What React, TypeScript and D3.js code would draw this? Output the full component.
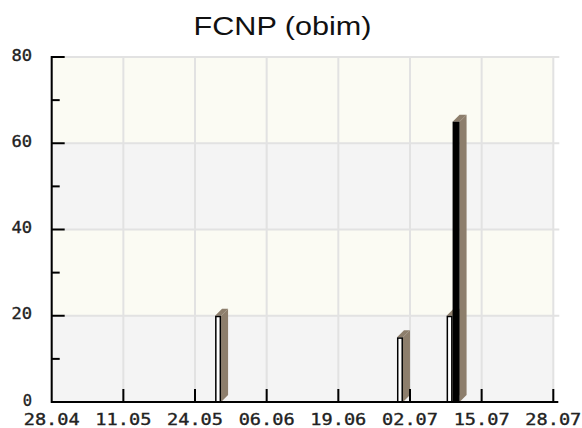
import React from 'react';
import * as d3 from 'd3';

// data
const title = 'FCNP (obim)';
const barDates = ['29.05', '01.07', '10.07'];
const whiteValues = [20, 15, 20];
const blackValues = [0, 0, 65];
const xTickLabels = ['28.04', '11.05', '24.05', '06.06', '19.06', '02.07', '15.07', '28.07'];
const yTickValues = [0, 20, 40, 60, 80];
const yMinorValues = [10, 30, 50, 70];

const W = 582;
const H = 428;
const plot = { left: 51.7, right: 553.3, top: 57, bottom: 402 };

const parse = (s: string) => d3.timeParse('%d.%m.%Y')(s + '.2012') as Date;

const cream = '#fbfbf3';
const grey = '#f4f4f4';
const gridColor = '#e2e2e2';
const depthColor = '#8d7e6c';
const monoFont = '"DejaVu Sans Mono", monospace';

const App: React.FC = () => {
  const x = d3.scaleTime()
    .domain([parse(xTickLabels[0]), parse(xTickLabels[xTickLabels.length - 1])])
    .range([plot.left, plot.right]);
  const y = d3.scaleLinear().domain([0, 80]).range([plot.bottom, plot.top]);

  const depth = 7;
  const y0 = y(0);

  // one 3D bar: top + side faces in brown, front on top
  const bar = (key: string, bx: number, bw: number, v: number, fill: string) => {
    if (v <= 0) return null;
    const yt = y(v);
    const side = [
      [bx + bw, yt], [bx + bw + depth, yt - depth],
      [bx + bw + depth, y0 - depth], [bx + bw, y0],
    ];
    const top = [
      [bx, yt], [bx + depth, yt - depth], [bx + bw + depth, yt - depth], [bx + bw, yt],
    ];
    return (
      <g key={key}>
        <polygon points={side.map(p => p.join(',')).join(' ')} fill={depthColor} />
        <polygon points={top.map(p => p.join(',')).join(' ')} fill={depthColor} />
        <rect x={bx + 0.75} y={yt + 0.75} width={bw - 1.5} height={y0 - yt - 0.75}
          fill={fill} stroke="#000" strokeWidth={1.5} />
      </g>
    );
  };

  const bands = [0, 20, 40, 60].map((v, i) => (
    <rect key={'band' + v} x={plot.left} y={y(v + 20)} width={plot.right - plot.left}
      height={y(v) - y(v + 20)} fill={i % 2 === 0 ? grey : cream} />
  ));

  return (
    <svg width={W} height={H} style={{ position: 'absolute', left: 0, top: 0, background: '#fff' }}>
      {bands}

      {/* vertical grid */}
      {xTickLabels.map(t => (
        <line key={'vg' + t} x1={x(parse(t))} x2={x(parse(t))} y1={plot.top} y2={plot.bottom}
          stroke={gridColor} strokeWidth={2} />
      ))}
      {/* horizontal grid */}
      {yTickValues.filter(v => v > 0).map(v => (
        <line key={'hg' + v} x1={plot.left + 13} x2={plot.right + 6} y1={y(v)} y2={y(v)}
          stroke={gridColor} strokeWidth={2} />
      ))}

      {/* bars */}
      {barDates.map((d, i) => {
        const cx = x(parse(d)) - 1.5;
        return (
          <g key={'grp' + d}>
            {bar('w' + d, cx - 6, 6, whiteValues[i], '#fff')}
            {bar('b' + d, cx, 7, blackValues[i], '#000')}
          </g>
        );
      })}

      {/* axes */}
      <line x1={plot.left} x2={plot.left} y1={plot.top - 1} y2={plot.bottom + 1} stroke="#000" strokeWidth={2} />
      <line x1={plot.left} x2={plot.right + 5} y1={plot.bottom} y2={plot.bottom} stroke="#000" strokeWidth={2} />
      {yTickValues.map(v => (
        <line key={'yt' + v} x1={plot.left} x2={plot.left + 13} y1={y(v)} y2={y(v)} stroke="#000" strokeWidth={2} />
      ))}
      {yMinorValues.map(v => (
        <line key={'ym' + v} x1={plot.left} x2={plot.left + 8} y1={y(v)} y2={y(v)} stroke="#000" strokeWidth={2} />
      ))}
      {xTickLabels.slice(1).map(t => (
        <line key={'xt' + t} x1={x(parse(t))} x2={x(parse(t))} y1={plot.bottom} y2={plot.bottom - 13}
          stroke="#000" strokeWidth={2} />
      ))}

      {/* labels */}
      {yTickValues.map(v => (
        <text key={'yl' + v} x={32} y={y(v) + 3.5} textAnchor="end" fontFamily={monoFont}
          fontSize={16} fill="#222" stroke="#222" strokeWidth={0.35}
          textLength={String(v).length * 11.3 - 2} lengthAdjust="spacingAndGlyphs">
          {v}
        </text>
      ))}
      {xTickLabels.map(t => (
        <text key={'xl' + t} x={x(parse(t))} y={424.5} textAnchor="middle" fontFamily={monoFont}
          fontSize={16} fill="#222" stroke="#222" strokeWidth={0.35}
          textLength={56} lengthAdjust="spacingAndGlyphs">
          {t}
        </text>
      ))}

      <text x={282.5} y={35} textAnchor="middle" fontFamily='"Liberation Sans", Arial, sans-serif'
        fontSize={25} fill="#111" textLength={178} lengthAdjust="spacingAndGlyphs">
        {title}
      </text>
    </svg>
  );
};

export default App;
